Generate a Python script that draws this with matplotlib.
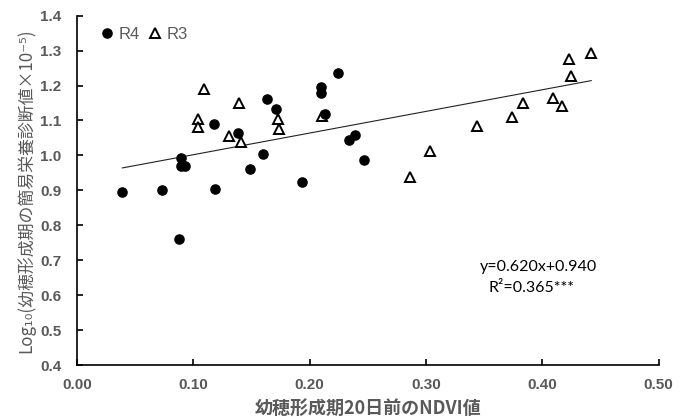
import matplotlib
matplotlib.use("Agg")
import matplotlib.pyplot as plt
from matplotlib.lines import Line2D
import numpy as np

# R4: NDVI 20 days before panicle initiation vs log10 nutrition index
r4_ndvi = [0.039, 0.073, 0.119, 0.088, 0.089, 0.089, 0.093, 0.118, 0.138,
           0.163, 0.171, 0.160, 0.149, 0.193, 0.210, 0.210, 0.224, 0.213,
           0.234, 0.239, 0.247]
r4_index = [0.896, 0.901, 0.903, 0.761, 0.992, 0.970, 0.970, 1.090, 1.065,
            1.162, 1.133, 1.005, 0.960, 0.923, 1.195, 1.180, 1.237, 1.118,
            1.044, 1.058, 0.987]

# R3
r3_ndvi = [0.109, 0.139, 0.104, 0.104, 0.131, 0.141, 0.173, 0.174, 0.211,
           0.286, 0.303, 0.344, 0.374, 0.383, 0.409, 0.417, 0.423, 0.425,
           0.442]
r3_index = [1.189, 1.151, 1.104, 1.082, 1.056, 1.038, 1.105, 1.076, 1.113,
            0.939, 1.013, 1.084, 1.111, 1.151, 1.164, 1.141, 1.275, 1.228,
            1.294]

# fitted regression
slope, intercept = 0.620, 0.940
r_squared = 0.365

x_ticks = [0.00, 0.10, 0.20, 0.30, 0.40, 0.50]
y_ticks = [0.4, 0.5, 0.6, 0.7, 0.8, 0.9, 1.0, 1.1, 1.2, 1.3, 1.4]

gray = "#595959"
cjk = ["Noto Sans CJK JP", "DejaVu Sans"]

fig = plt.figure(figsize=(6.84, 4.17), dpi=100)
ax = fig.add_axes([0.1126, 0.1247, 0.8504, 0.8377])

all_x = np.array(r4_ndvi + r3_ndvi)
fit_x = np.array([all_x.min(), all_x.max()])
ax.plot(fit_x, slope * fit_x + intercept, color="#222222", lw=0.8, zorder=1)

ax.plot(r4_ndvi, r4_index, "o", ms=6.6, mfc="black", mec="black",
        ls="none", zorder=3)
ax.plot(r3_ndvi, r3_index, "^", ms=7.6, mfc="white", mec="black",
        mew=1.4, ls="none", zorder=2)

ax.set_xlim(0, 0.5)
ax.set_ylim(0.4, 1.4)
ax.set_xticks(x_ticks)
ax.set_yticks(y_ticks)
ax.set_xticklabels([f"{v:.2f}" for v in x_ticks])
ax.set_yticklabels([f"{v:.1f}" for v in y_ticks])

for s in ("top", "right"):
    ax.spines[s].set_visible(False)
for s in ("left", "bottom"):
    ax.spines[s].set_linewidth(1.2)
    ax.spines[s].set_color("black")

ax.tick_params(axis="both", direction="in", length=4, width=1.2,
               colors="black", labelcolor=gray)
ax.tick_params(axis="y", pad=11)
ax.tick_params(axis="x", pad=9)
for lab in ax.get_xticklabels() + ax.get_yticklabels():
    lab.set_fontfamily("Liberation Sans")
    lab.set_fontweight("bold")
    lab.set_fontsize(11)

ax.set_xlabel("幼穂形成期20日前のNDVI値", family=cjk, fontweight="bold",
              fontsize=13, color=gray, labelpad=5)
ax.set_ylabel("Log₁₀(幼穂形成期の簡易栄養診断値×10⁻⁵)", family=cjk,
              fontsize=12.2, color=gray, labelpad=4)

handles = [
    Line2D([], [], marker="o", ls="none", ms=6.6, mfc="black", mec="black"),
    Line2D([], [], marker="^", ls="none", ms=7.6, mfc="white", mec="black",
           mew=1.4),
]
leg = ax.legend(handles, ["R4", "R3"], loc="upper left", ncol=2,
                frameon=False, handlelength=0.8, handletextpad=0.3,
                columnspacing=0.5, borderaxespad=0,
                bbox_to_anchor=(0.028, 0.988),
                prop={"family": "Liberation Sans", "size": 12})
for t in leg.get_texts():
    t.set_color(gray)

ax.text(0.3465, 0.681, f"y={slope:.3f}x+{intercept:.3f}", family="Lato",
        fontsize=11.5, color="black", va="center", ha="left")
ax.text(0.3534, 0.620, f"R²={r_squared:.3f}***", family="Lato",
        fontsize=11.5, color="black", va="center", ha="left")

fig.savefig("out.png", dpi=100)
